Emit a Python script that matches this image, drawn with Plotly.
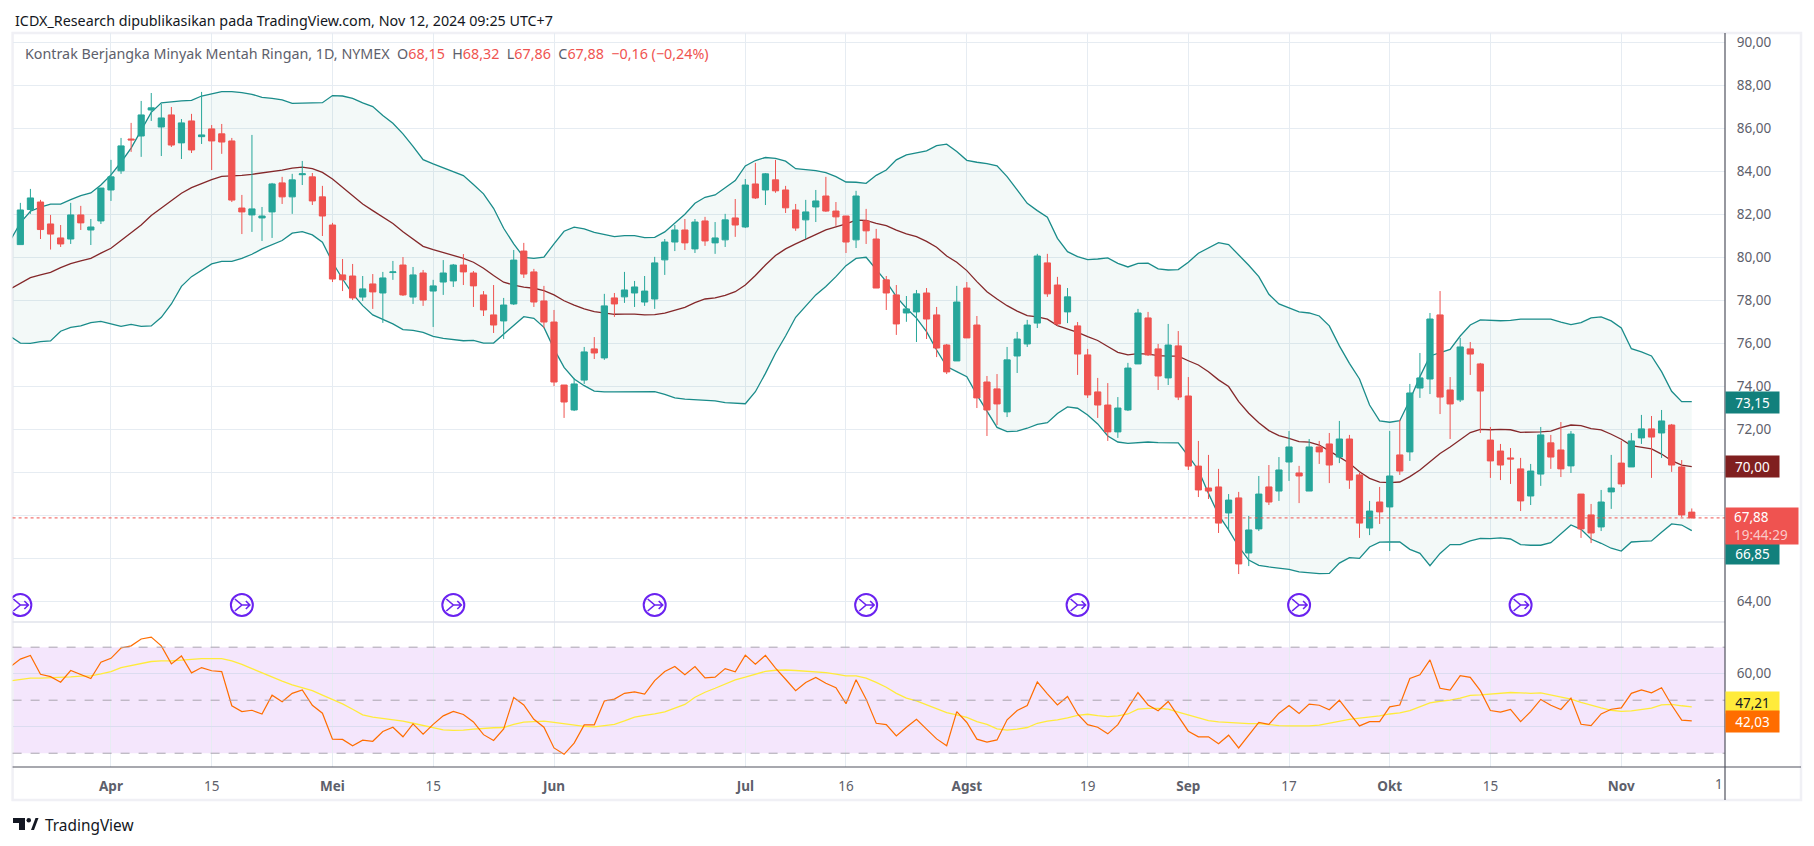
import plotly.graph_objects as go

W, H = 1814, 846

# daily candles, index 0 = first full candle on screen
open_ = [80.59,82.22,82.57,81.55,80.90,80.85,81.97,81.27,81.69,83.13,
    84.02,85.50,85.64,86.85,86.06,86.62,85.32,86.34,85.61,85.97,
    85.74,85.41,82.29,81.97,81.83,82.11,83.46,82.81,83.84,83.74,
    82.81,81.50,79.18,79.13,78.15,78.76,78.34,79.29,79.64,78.15,
    79.27,78.43,78.85,78.90,79.64,79.27,78.25,77.32,77.04,77.83,
    80.29,79.32,77.97,76.99,74.06,72.90,74.29,75.74,
    75.32,78.11,78.16,78.34,77.92,78.06,79.88,80.71,81.27,80.39,
    81.69,80.67,80.81,81.83,81.41,83.41,83.13,83.60,83.13,82.20,
    81.74,82.34,82.85,82.15,81.92,80.81,81.69,80.85,78.95,78.25,
    77.41,77.46,78.34,77.32,75.92,75.18,78.57,76.85,74.20,73.88,
    72.81,75.41,75.97,76.94,79.74,78.71,77.46,76.81,75.46,73.74,
    73.13,71.88,72.90,75.04,77.18,75.74,74.39,75.88,73.55,70.29,
    69.27,69.32,68.11,68.81,66.25,67.37,69.32,69.13,70.48,69.97,
    69.13,71.18,71.32,70.71,71.55,69.88,67.41,68.62,68.39,70.81,
    70.95,73.92,74.34,77.32,73.83,73.37,75.74,75.04,71.50,70.99,
    70.67,70.16,68.90,69.92,71.37,71.04,70.30,68.99,68.02,67.46,
    69.09,70.43,70.25,71.60,72.02,71.83,72.20,70.25,68.15]
high = [82.53,83.18,82.67,81.97,81.50,82.53,82.39,81.78,83.22,84.53,
    85.55,86.25,87.27,87.64,87.13,86.99,86.43,86.67,87.69,86.15,
    86.20,85.55,82.90,85.69,82.34,83.46,83.74,83.88,84.48,83.92,
    83.32,81.60,79.92,79.69,79.13,79.22,79.32,79.83,80.01,79.55,
    79.41,78.95,79.87,79.69,80.15,79.36,78.43,78.71,78.11,80.34,
    80.67,79.46,78.67,77.55,74.06,74.39,75.83,76.29,
    78.30,78.34,79.32,78.90,79.13,80.02,80.85,81.50,81.78,81.78,
    81.88,81.64,82.02,82.71,83.64,84.39,83.92,84.53,83.32,82.48,
    82.67,83.13,83.74,82.57,81.92,83.09,82.25,81.32,79.13,78.71,
    78.20,78.48,78.57,77.69,75.97,78.67,78.85,77.27,74.48,74.57,
    75.83,76.53,77.09,80.16,80.16,79.09,78.57,76.99,75.74,74.39,
    74.15,73.50,75.09,77.60,77.46,75.97,76.90,76.57,74.43,71.46,
    70.81,70.16,68.99,69.09,67.97,69.83,70.34,70.71,71.92,70.30,
    71.55,71.46,71.83,72.39,71.74,69.97,68.67,69.32,71.92,72.44,
    74.11,75.55,77.41,78.43,74.43,76.25,76.06,75.09,72.11,71.32,
    71.13,70.67,70.39,72.11,71.74,72.34,71.92,68.99,68.53,69.18,
    70.81,71.46,71.83,72.67,72.62,72.90,72.25,70.57,68.32]
low = [80.59,82.02,80.85,80.36,80.48,80.62,81.27,80.57,81.55,82.62,
    83.88,84.90,84.67,86.34,84.71,85.13,84.57,84.85,85.27,84.06,
    84.81,82.57,81.08,81.18,80.76,80.90,82.48,82.02,83.36,82.43,
    80.99,78.85,78.43,78.01,77.97,77.60,76.95,78.95,78.20,77.83,
    77.74,76.76,78.25,78.62,78.71,77.69,77.27,76.48,76.20,77.78,
    79.04,77.69,76.71,74.01,72.53,72.85,74.11,75.27,
    75.23,77.23,77.88,77.69,77.74,77.60,79.18,80.29,80.34,80.20,
    80.53,80.16,80.48,80.95,81.36,82.71,82.43,83.00,82.06,81.23,
    80.85,81.64,82.11,81.46,80.20,80.43,80.62,78.57,77.55,76.39,
    77.00,76.06,76.20,75.36,74.57,75.18,76.25,72.99,71.69,72.20,
    72.57,74.62,75.83,76.71,78.16,76.81,76.94,74.53,73.46,72.53,
    71.46,71.60,72.85,75.04,75.41,73.83,74.06,73.36,70.11,68.85,
    68.76,67.18,67.32,65.27,65.64,67.27,68.48,68.67,69.60,68.57,
    69.13,70.39,69.50,70.43,69.23,66.95,67.08,67.60,66.34,69.88,
    70.53,73.46,73.64,72.71,71.55,73.27,74.53,71.83,69.74,69.64,
    69.46,68.20,68.48,69.37,70.16,69.78,69.97,66.95,66.71,67.27,
    68.30,69.32,70.25,71.32,69.74,70.67,70.02,67.92,67.86]
close = [82.20,82.76,81.29,81.08,80.62,81.97,81.60,81.41,83.22,83.74,
    85.18,85.46,86.62,86.95,86.48,85.22,86.25,84.99,85.69,85.41,
    85.36,82.66,82.11,82.25,81.92,83.41,82.81,83.60,83.88,82.62,
    81.92,78.99,78.95,78.11,78.53,78.39,79.04,79.32,78.25,79.18,
    78.01,78.67,79.27,79.64,79.32,78.67,77.55,76.85,77.78,79.87,
    79.22,77.92,76.99,74.20,73.27,74.11,75.60,75.55,
    77.74,77.83,78.48,78.62,78.43,79.74,80.71,81.27,80.67,81.64,
    80.76,80.90,81.74,81.50,83.36,82.76,83.88,83.09,82.30,81.36,
    82.11,82.62,82.15,81.88,80.71,82.85,81.23,78.57,78.34,76.90,
    77.60,78.30,77.13,75.78,74.67,77.92,76.25,73.46,72.90,73.18,
    75.23,76.20,76.85,80.06,78.30,76.90,78.16,75.50,73.60,73.13,
    71.88,72.99,74.85,77.41,75.46,74.48,75.92,73.50,70.29,69.18,
    69.13,67.64,68.71,65.74,67.32,68.99,68.62,70.11,71.18,69.83,
    71.18,70.95,70.34,71.55,69.64,67.64,68.20,68.16,69.83,70.06,
    73.69,74.39,77.13,73.50,73.18,75.83,75.50,73.78,70.53,70.34,
    70.62,68.67,70.06,71.74,70.71,70.16,71.78,67.37,67.18,68.62,
    69.27,69.46,71.46,72.02,71.64,72.39,70.34,68.02,67.88]

# bollinger bands, these start one bar earlier (clipped by the left edge)
bb_upper = [80.78,81.60,82.14,82.33,82.47,82.47,82.68,82.87,82.99,83.36,83.83,
    84.42,85.08,85.89,86.74,87.18,87.24,87.27,87.30,87.50,87.60,
    87.70,87.70,87.66,87.58,87.44,87.39,87.32,87.16,87.16,87.18,
    87.19,87.52,87.50,87.39,87.18,87.01,86.59,86.23,85.74,85.16,
    84.54,84.34,84.17,83.97,83.80,83.38,82.95,82.28,81.35,80.62,
    80.00,79.95,80.01,80.62,81.21,81.40,81.32,81.16,
    81.07,80.96,81.01,81.01,80.91,80.93,81.18,81.61,82.00,82.51,
    82.79,82.90,83.24,83.57,84.25,84.50,84.64,84.60,84.47,84.12,
    84.08,84.03,83.94,83.75,83.50,83.49,83.44,83.81,84.06,84.53,
    84.76,84.84,84.95,85.19,85.26,84.92,84.51,84.42,84.36,84.25,
    83.75,83.13,82.51,82.17,81.86,80.88,80.26,80.03,79.89,79.92,
    79.97,79.72,79.55,79.72,79.73,79.46,79.41,79.43,79.77,80.19,
    80.42,80.68,80.59,80.11,79.63,79.10,78.28,77.83,77.63,77.46,
    77.41,77.27,76.81,75.88,75.07,74.34,73.13,72.39,72.33,72.40,
    73.36,74.45,75.41,75.57,75.72,76.34,76.85,77.09,77.07,77.05,
    77.07,77.12,77.12,77.12,77.12,76.98,76.87,76.96,77.18,77.23,
    77.04,76.71,75.75,75.60,75.41,74.68,73.77,73.29,73.29]
bb_basis = [78.53,78.81,79.05,79.18,79.30,79.52,79.70,79.83,79.95,80.19,80.42,
    80.78,81.13,81.50,81.94,82.28,82.60,82.98,83.24,83.44,83.61,
    83.76,83.78,83.81,83.86,83.92,83.98,84.05,84.15,84.19,84.12,
    83.95,83.64,83.26,82.87,82.48,82.17,81.89,81.57,81.19,80.85,
    80.51,80.36,80.23,80.11,79.95,79.77,79.49,79.15,78.84,78.71,
    78.61,78.56,78.45,78.25,77.98,77.78,77.60,77.47,
    77.40,77.35,77.36,77.36,77.32,77.33,77.40,77.52,77.67,77.89,
    78.06,78.11,78.23,78.40,78.71,79.15,79.64,80.08,80.39,80.62,
    80.84,81.07,81.27,81.41,81.55,81.73,81.72,81.58,81.47,81.26,
    81.09,80.96,80.74,80.47,80.06,79.77,79.38,78.87,78.40,78.06,
    77.75,77.50,77.29,77.23,77.12,76.82,76.67,76.51,76.31,76.13,
    75.85,75.58,75.46,75.52,75.50,75.43,75.40,75.40,75.19,74.99,
    74.68,74.30,73.99,73.29,72.75,72.31,71.94,71.71,71.58,71.43,
    71.40,71.27,71.00,70.70,70.42,70.03,69.72,69.54,69.52,69.55,
    69.80,70.11,70.50,70.88,71.18,71.50,71.85,72.00,71.98,72.00,
    71.98,71.86,71.86,71.88,71.92,72.08,72.20,72.17,72.03,71.97,
    71.77,71.54,71.24,71.16,71.09,70.85,70.54,70.34,70.27]
bb_lower = [76.32,76.01,76.00,76.08,76.11,76.56,76.74,76.81,76.96,77.02,76.90,
    76.79,76.88,76.79,76.81,77.21,77.83,78.65,79.10,79.38,79.69,
    79.81,79.81,79.95,80.14,80.39,80.57,80.78,81.12,81.19,81.04,
    80.70,79.77,78.99,78.30,77.75,77.32,77.11,76.90,76.64,76.60,
    76.51,76.32,76.23,76.17,76.12,76.14,76.01,76.01,76.43,76.82,
    77.24,77.16,76.74,75.74,74.88,74.34,74.03,73.78,
    73.74,73.74,73.75,73.75,73.75,73.75,73.63,73.46,73.40,73.37,
    73.37,73.32,73.24,73.23,73.19,73.75,74.60,75.54,76.34,77.21,
    77.71,78.25,78.64,79.10,79.61,79.95,80.00,79.41,78.87,78.17,
    77.63,77.17,76.54,75.69,74.92,74.68,74.45,73.60,72.82,72.09,
    71.89,71.92,72.05,72.23,72.31,72.74,73.04,72.98,72.67,72.25,
    71.69,71.41,71.35,71.37,71.41,71.38,71.37,71.37,70.76,70.11,
    69.02,68.02,67.32,66.54,65.92,65.67,65.60,65.53,65.49,65.37,
    65.32,65.29,65.30,65.78,66.03,66.00,66.53,66.75,66.76,66.76,
    66.42,66.23,65.66,66.23,66.64,66.64,66.81,66.93,66.92,66.95,
    66.90,66.64,66.61,66.61,66.73,67.12,67.55,67.35,66.90,66.70,
    66.47,66.34,66.76,66.79,66.81,67.21,67.60,67.55,67.29]

rsi = [62.6,65.5,66.9,59.8,58.9,56.8,61.2,59.6,58.2,64.3,65.8,
    69.7,70.5,73.1,73.8,70.5,63.7,66.7,60.3,62.3,61.1,
    60.8,47.9,45.7,46.2,44.8,51.9,49.4,52.6,53.9,48.1,
    45.1,35.3,35.2,32.8,34.9,34.5,38.2,39.8,36.2,41.1,
    37.2,40.9,44.1,45.8,44.6,41.8,37.0,34.8,39.2,51.0,
    48.2,42.8,39.8,32.0,29.6,33.8,40.7,40.7,
    49.7,50.4,52.6,53.1,52.3,57.4,60.8,62.7,59.6,62.7,
    58.4,58.7,61.9,60.7,67.0,63.6,66.9,62.1,57.9,53.6,
    56.7,58.6,56.4,54.7,48.7,57.7,50.4,41.3,40.8,36.5,
    39.8,42.8,39.1,35.4,32.8,45.7,41.6,35.3,34.2,35.0,
    42.6,46.1,48.0,56.9,52.4,48.2,51.4,44.8,40.8,39.8,
    37.3,40.8,47.0,52.9,48.2,46.0,49.5,43.8,38.3,36.2,
    36.2,33.6,36.8,32.0,36.8,41.6,40.9,45.1,48.0,45.0,
    48.5,48.1,46.4,50.0,45.1,40.3,41.9,41.9,47.5,48.2,
    58.2,59.6,65.2,54.5,53.8,59.3,58.6,53.6,46.1,45.5,
    46.5,41.9,45.7,50.3,48.1,46.5,50.8,40.9,40.4,44.8,
    46.6,47.1,52.6,53.9,52.8,54.7,48.2,42.5,42.2]
rsi_ma = [57.3,57.7,58.3,58.3,58.4,58.6,58.8,59.1,59.2,59.9,60.8,
    62.3,63.1,63.8,64.6,64.8,64.8,65.1,65.5,65.7,65.7,
    65.7,64.8,63.5,61.9,60.3,58.9,57.2,55.8,54.8,53.6,
    51.9,50.4,48.6,46.6,44.5,43.6,43.1,42.6,42.1,41.3,
    40.4,39.7,38.8,38.6,38.7,39.1,39.4,39.6,39.7,40.9,
    41.7,41.9,42.1,41.6,41.1,40.4,40.1,39.9,
    40.3,40.9,42.2,43.6,44.3,44.8,45.6,47.0,48.4,51.1,
    53.0,54.5,56.0,57.7,58.7,59.9,60.9,61.3,61.4,61.2,
    60.9,60.7,60.4,59.8,59.2,59.2,58.3,56.7,54.9,52.6,
    50.8,49.7,48.2,46.7,45.3,44.5,43.5,41.9,40.9,39.2,
    38.7,39.1,39.7,41.3,42.1,42.6,43.3,44.3,44.7,44.2,
    43.8,44.1,44.8,46.6,46.9,46.9,46.6,45.5,44.5,43.3,
    42.3,41.8,41.6,41.3,41.2,41.2,40.8,40.4,40.3,40.3,
    40.3,40.6,41.3,42.2,42.8,43.2,43.6,44.1,44.8,45.2,
    46.1,47.5,49.0,49.6,50.0,50.8,51.8,52.0,52.3,52.6,
    52.9,52.8,52.6,52.8,52.0,51.0,50.4,49.2,48.1,47.1,
    46.2,45.8,46.0,46.6,47.0,48.2,48.4,47.9,47.5]

time_ticks = [9, 19, 31, 41, 53, 72, 82, 94, 106, 116, 126, 136, 146, 159]
time_labels = ["<b>Apr</b>", "15", "<b>Mei</b>", "15", "<b>Jun</b>", "<b>Jul</b>", "16",
               "<b>Agst</b>", "19", "<b>Sep</b>", "17", "<b>Okt</b>", "15", "<b>Nov</b>"]
# 66, 68 and 70 sit behind the value chips in the original
price_ticks = [64, 66, 68, 70, 72, 74, 76, 78, 80, 82, 84, 86, 88, 90]
price_labels = ["64,00", "", "", "", "72,00", "74,00", "76,00",
                "78,00", "80,00", "82,00", "84,00", "86,00", "88,00", "90,00"]
rsi_ticks = [40, 60]
rsi_labels = ["", "60,00"]
rsi_levels = [30, 50, 70]
event_bars = [0, 22, 43, 63, 84, 105, 127, 149]
event_price = 63.83

idx = list(range(len(open_)))
idx_b = list(range(-1, len(open_)))

# pane edges in pixels of the screenshot
LEFT, AXIS, RIGHT = 12.6, 1725, 1801
TOP, SPLIT, BOTTOM, END = 33, 622, 767, 800
x_range = [-0.77, 169.3]
y_range = [63.04, 90.43]
rsi_range = [24.8, 79.5]
x_dom = [LEFT / W, AXIS / W]

def px(v):
    return v / W

def py(v):
    return 1 - v / H

GRID = "#e6ecf2"
TXT = "#5d606b"
TEAL = "#1a8c8a"
PURPLE = "#6a22f0"
FONT = "Noto Sans"

fig = go.Figure()

# band fill + lines
fig.add_trace(go.Scatter(x=idx_b, y=bb_upper, mode="lines", line=dict(color=TEAL, width=1.3)))
fig.add_trace(go.Scatter(x=idx_b, y=bb_lower, mode="lines", line=dict(color=TEAL, width=1.3),
                         fill="tonexty", fillcolor="rgba(38,140,130,0.055)"))
fig.add_trace(go.Scatter(x=idx_b, y=bb_basis, mode="lines", line=dict(color="#84282a", width=1.3)))

# candles on an overlay so they stay above the band lines
fig.add_trace(go.Candlestick(
    x=idx, open=open_, high=high, low=low, close=close,
    xaxis="x3", yaxis="y3", whiskerwidth=0,
    increasing=dict(line=dict(color="#26a69a", width=1), fillcolor="#26a69a"),
    decreasing=dict(line=dict(color="#ef5350", width=1), fillcolor="#ef5350"),
))

# event circles under the price
fig.add_trace(go.Scatter(x=event_bars, y=[event_price] * len(event_bars), mode="markers",
                         xaxis="x3", yaxis="y3",
                         marker=dict(symbol="circle-open", size=22, color=PURPLE,
                                     line=dict(color=PURPLE, width=2))))

# rsi pane
fig.add_trace(go.Scatter(x=idx_b, y=rsi_ma, mode="lines", xaxis="x2", yaxis="y2",
                         line=dict(color="#ffeb3b", width=1.3)))
fig.add_trace(go.Scatter(x=idx_b, y=rsi, mode="lines", xaxis="x2", yaxis="y2",
                         line=dict(color="#ff6d00", width=1.2)))

shapes = [
    dict(type="rect", xref="x2 domain", yref="y2", x0=0, x1=1, y0=rsi_levels[0], y1=rsi_levels[2],
         fillcolor="rgba(156,39,230,0.115)", line_width=0, layer="below"),
    dict(type="line", xref="x domain", yref="y", x0=0, x1=1, y0=close[-1], y1=close[-1],
         line=dict(color="#ef5350", width=1, dash="dot")),
]
for lv in rsi_levels:
    shapes.append(dict(type="line", xref="x2 domain", yref="y2", x0=0, x1=1, y0=lv, y1=lv,
                       line=dict(color="#a9a4af", width=1, dash="dash")))

# merging arrow inside each event circle, pixel offsets scaled to the axes
bar_px = (AXIS - LEFT) / (x_range[1] - x_range[0])
price_px = (SPLIT - TOP) / (y_range[1] - y_range[0])
arrow_strokes = [[(-7, -6), (0, 0), (-7, 6)], [(0, 0), (8, 0)], [(4, -4), (8, 0), (4, 4)]]
for bar in event_bars:
    d = ""
    for stroke in arrow_strokes:
        d += "M" + "L".join(f"{bar + a / bar_px:.3f},{event_price - b / price_px:.3f}" for a, b in stroke)
    shapes.append(dict(type="path", xref="x", yref="y", path=d, line=dict(color=PURPLE, width=1.6)))

# frame and pane separators
shapes += [
    dict(type="rect", xref="paper", yref="paper", x0=px(LEFT), x1=px(RIGHT), y0=py(END), y1=py(TOP),
         line=dict(color="#f0f0f5", width=2.5), layer="below"),
    dict(type="line", xref="paper", yref="paper", x0=px(LEFT), x1=px(AXIS), y0=py(SPLIT), y1=py(SPLIT),
         line=dict(color="#e0e3eb", width=1.5)),
    dict(type="line", xref="paper", yref="paper", x0=px(LEFT), x1=px(RIGHT), y0=py(BOTTOM), y1=py(BOTTOM),
         line=dict(color="#50535e", width=1.2)),
    dict(type="line", xref="paper", yref="paper", x0=px(AXIS), x1=px(AXIS), y0=py(END), y1=py(TOP),
         line=dict(color="#50535e", width=1.2)),
]

# tradingview logo
def logo_path(points):
    return "M" + "L".join(f"{px(a):.5f},{py(b):.5f}" for a, b in points) + "Z"

for pts in ([(13, 818), (25, 818), (25, 830), (19, 830), (19, 823), (13, 823)],
            [(31, 830), (35.5, 818), (38.5, 818), (34, 830)]):
    shapes.append(dict(type="path", xref="paper", yref="paper", path=logo_path(pts),
                       fillcolor="#131722", line_width=0))
shapes.append(dict(type="circle", xref="paper", yref="paper", x0=px(26.5), x1=px(31), y0=py(822.5), y1=py(818),
                   fillcolor="#131722", line_width=0))

def chip(text, y, h, bg, fg, w=51, size=13.5, align="center"):
    return dict(text=text, xref="paper", yref="paper", x=px(AXIS), y=py(y), xanchor="left", yanchor="middle",
                showarrow=False, width=w, height=h, bgcolor=bg, align=align,
                font=dict(family=FONT, size=size, color=fg))

legend_text = ('Kontrak Berjangka Minyak Mentah Ringan, 1D, NYMEX  O<span style="color:#ef5350">68,15</span>'
               '  H<span style="color:#ef5350">68,32</span>  L<span style="color:#ef5350">67,86</span>'
               '  C<span style="color:#ef5350">67,88</span>'
               '  <span style="color:#ef5350">\u22120,16 (\u22120,24%)</span>')

annotations = [
    dict(text="ICDX_Research dipublikasikan pada TradingView.com, Nov 12, 2024 09:25 UTC+7",
         xref="paper", yref="paper", x=px(13), y=py(20), xanchor="left", yanchor="middle", showarrow=False,
         font=dict(family=FONT, size=14.3, color="#131722")),
    dict(text=legend_text, xref="paper", yref="paper", x=px(23), y=py(54), xanchor="left", yanchor="middle",
         showarrow=False, font=dict(family=FONT, size=14.3, color=TXT)),
    dict(text="TradingView", xref="paper", yref="paper", x=px(43), y=py(825), xanchor="left", yanchor="middle",
         showarrow=False, font=dict(family=FONT, size=15.4, color="#131722")),
    dict(text="1", xref="paper", yref="paper", x=px(1719), y=py(784), xanchor="center", yanchor="middle",
         showarrow=False, font=dict(family=FONT, size=13.5, color=TXT)),
    chip("73,15", 402, 19, "#12807c", "white"),
    chip("70,00", 466.5, 19, "#801f1f", "white"),
    chip("66,85", 553.5, 18, "#12807c", "white"),
    chip('\u00a0\u00a067,88<br>\u00a0\u00a0<span style="color:rgba(255,255,255,0.7)">19:44:29</span>',
         526, 34, "#ef5350", "white", w=70, align="left"),
    chip("47,21", 702.5, 19, "#ffeb3b", "#131722"),
    chip("42,03", 721.5, 19, "#ff6d00", "white"),
]

tick_font = dict(family=FONT, size=13.5, color=TXT)
time_axis = dict(domain=x_dom, range=x_range, tickmode="array", tickvals=time_ticks, ticktext=time_labels,
                 showgrid=True, gridcolor=GRID, gridwidth=1, zeroline=False, showline=False)

fig.update_layout(
    width=W, height=H, margin=dict(l=0, r=0, t=0, b=0, pad=0),
    paper_bgcolor="white", plot_bgcolor="white", showlegend=False, hovermode=False, boxgap=0.12,
    xaxis=dict(time_axis, anchor="y", showticklabels=False),
    yaxis=dict(domain=[py(SPLIT), py(TOP)], range=y_range, anchor="x", side="right",
               tickmode="array", tickvals=price_ticks, ticktext=price_labels, tickfont=tick_font,
               ticks="outside", ticklen=8, tickcolor="rgba(0,0,0,0)",
               showgrid=True, gridcolor=GRID, gridwidth=1, zeroline=False),
    xaxis2=dict(time_axis, anchor="y2", tickfont=tick_font, ticks="outside", ticklen=7,
                tickcolor="rgba(0,0,0,0)"),
    yaxis2=dict(domain=[py(BOTTOM), py(SPLIT)], range=rsi_range, anchor="x2", side="right",
                tickmode="array", tickvals=rsi_ticks, ticktext=rsi_labels, tickfont=tick_font,
                ticks="outside", ticklen=8, tickcolor="rgba(0,0,0,0)",
                showgrid=True, gridcolor="#dcdcf0", gridwidth=1, zeroline=False),
    xaxis3=dict(domain=x_dom, range=x_range, anchor="y3", overlaying="x", visible=False,
                rangeslider=dict(visible=False)),
    yaxis3=dict(domain=[py(SPLIT), py(TOP)], range=y_range, anchor="x3", overlaying="y", visible=False),
    shapes=shapes,
    annotations=annotations,
)

fig.write_html("out.html", config=dict(displayModeBar=False),
               post_script="document.body.style.margin='0';document.body.style.overflow='hidden';")
